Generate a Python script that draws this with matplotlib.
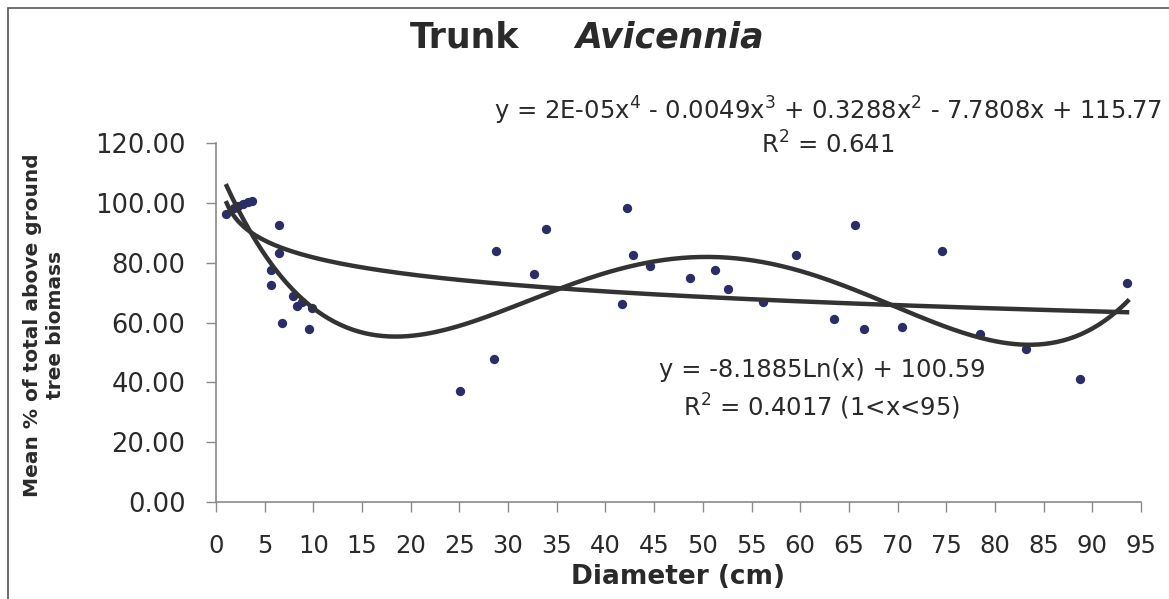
import numpy as np
import matplotlib.pyplot as plt
from matplotlib.patches import Rectangle

# diameter (cm) and mean % of total above-ground biomass
diameter = [1.0, 1.8, 2.3, 2.8, 3.3, 3.7, 5.6, 5.6, 6.5, 6.5, 6.8, 7.9, 8.3, 8.8,
            9.6, 9.9, 25.1, 28.5, 28.8, 32.7, 33.9, 41.7, 42.2, 42.8, 44.6, 48.7,
            51.3, 52.6, 56.2, 59.6, 63.5, 65.6, 66.6, 70.5, 74.6, 78.5, 83.2,
            88.7, 93.6]
biomass_pct = [96.3, 98.3, 99.0, 99.7, 100.3, 100.7, 77.6, 72.6, 92.5, 83.3, 59.9,
               69.0, 65.5, 67.0, 57.9, 65.0, 37.1, 47.7, 83.9, 76.1, 91.1, 66.2,
               98.2, 82.6, 78.9, 74.8, 77.6, 71.1, 67.0, 82.6, 61.2, 92.5, 57.8,
               58.5, 83.9, 56.3, 51.1, 41.2, 73.3]

# logarithmic trendline as printed on the chart: y = slope*ln(x) + intercept
log_slope = -8.1885
log_intercept = 100.59
trend_range = (1, 93.8)

x_ticks = list(range(0, 100, 5))
y_ticks = [0, 20, 40, 60, 80, 100, 120]

poly_label = ("y = 2E-05x$^4$ - 0.0049x$^3$ + 0.3288x$^2$ - 7.7808x + 115.77\n"
              "R$^2$ = 0.641")
log_label = "y = -8.1885Ln(x) + 100.59\nR$^2$ = 0.4017 (1<x<95)"

plt.rcParams['font.family'] = ['DejaVu Sans']
plt.rcParams['mathtext.fontset'] = 'dejavusans'

TEXT = '#2a2a2a'
AXIS = '#8a8a8a'
LINE = '#333333'

fig = plt.figure(figsize=(11.69, 5.99), dpi=100)
ax = fig.add_axes([0.1848, 0.1619, 0.976 - 0.1848, 0.7613 - 0.1619])

# frame of the chart area (cropped at right and bottom)
fig.patches.append(Rectangle((8 / 1169, -0.2), 1.5, 1 - 8 / 599 + 0.2,
                             transform=fig.transFigure, fill=False,
                             edgecolor='#555555', linewidth=1.2))

x = np.array(diameter)
y = np.array(biomass_pct)

ax.scatter(x, y, s=45, color='#2b2d66', zorder=2, linewidths=0)

# trendlines
xs = np.linspace(trend_range[0], trend_range[1], 300)
poly = np.polyfit(x, y, 4)
ax.plot(xs, np.polyval(poly, xs), color=LINE, lw=3.2, zorder=3,
        solid_capstyle='butt')
ax.plot(xs, log_intercept + log_slope * np.log(xs), color=LINE, lw=3.2,
        zorder=3, solid_capstyle='butt')

ax.set_xlim(0, 95)
ax.set_ylim(0, 120)
ax.set_xticks(x_ticks)
ax.set_yticks(y_ticks)
ax.set_yticklabels([f"{v:.2f}" for v in y_ticks])
ax.tick_params(axis='both', direction='out', length=7, width=1, color=AXIS,
               labelcolor=TEXT)
ax.tick_params(axis='x', pad=16, labelsize=17.5)
ax.tick_params(axis='y', pad=15, labelsize=18.5)
for side in ('top', 'right'):
    ax.spines[side].set_visible(False)
for side in ('left', 'bottom'):
    ax.spines[side].set_color(AXIS)
    ax.spines[side].set_linewidth(1.2)

ax.set_xlabel("Diameter (cm)", fontsize=19, fontweight='bold', color=TEXT,
              labelpad=4)
fig.text(0.0376, 0.457, "Mean % of total above ground\ntree biomass",
         rotation=90, ha='center', va='center', fontsize=14.5,
         fontweight='bold', color=TEXT, linespacing=1.3)

fig.text(410 / 1169, 0.938, "Trunk", fontsize=25, fontweight='bold',
         ha='left', va='center', color=TEXT)
fig.text(575 / 1169, 0.938, "Avicennia", fontsize=25, fontweight='bold',
         style='italic', ha='left', va='center', color=TEXT)

fig.text(828 / 1169, 1 - 127 / 599, poly_label, fontsize=17.5, ha='center',
         va='center', color=TEXT, linespacing=1.2)
fig.text(822 / 1169, 1 - 390 / 599, log_label, fontsize=17.5, ha='center',
         va='center', color=TEXT, linespacing=1.4)

fig.savefig("out.png", dpi=100)
